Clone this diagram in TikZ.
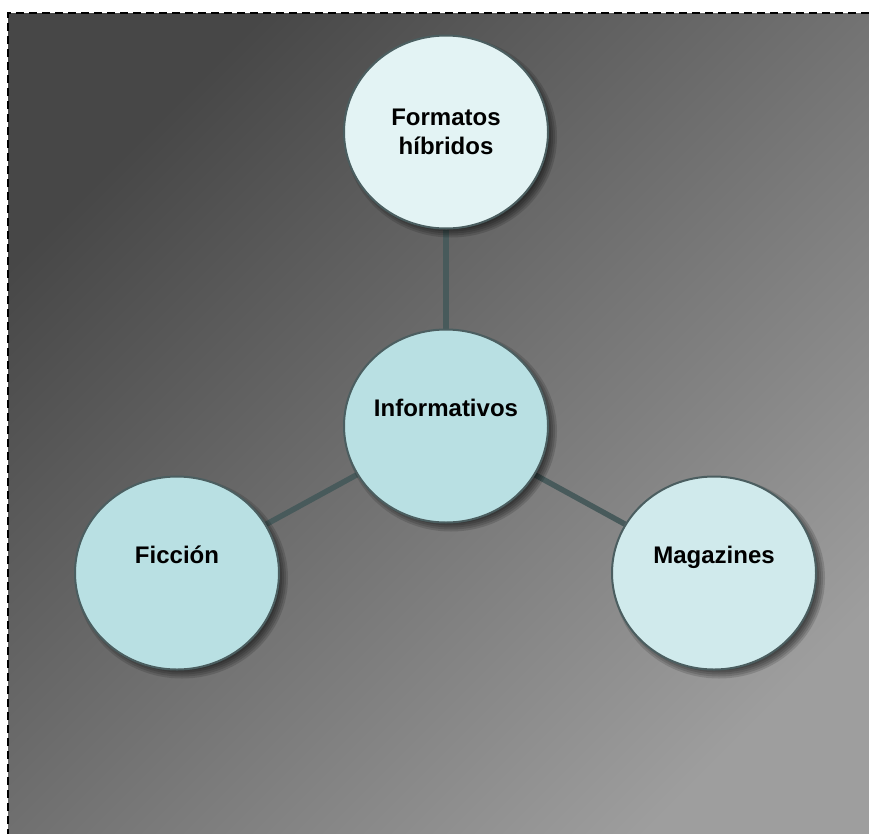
\documentclass[tikz,border=0pt]{standalone}
\usepackage{fontspec}
\setmainfont{Liberation Sans}
\usetikzlibrary{shapes.geometric}
\definecolor{bgdark}{HTML}{474747}
\definecolor{bglight}{HTML}{9E9E9E}
\definecolor{rim}{HTML}{4B5E60}
\definecolor{linkgray}{HTML}{485A5B}
\definecolor{topfill}{HTML}{E3F3F4}
\definecolor{midfill}{HTML}{B9E0E3}
\definecolor{magfill}{HTML}{D0EAEC}
\pgfdeclarelayer{back}
\pgfdeclarelayer{links}
\pgfdeclarelayer{shade}
\pgfsetlayers{back,links,shade,main}

\begin{document}
\begin{tikzpicture}[x=1pt,y=-1pt,
  bubble/.style={ellipse,draw=rim,line width=2pt,minimum width=204pt,minimum height=193pt,
    inner sep=0pt,font=\fontsize{24}{29}\selectfont\bfseries},
  lowtext/.style={text height=17pt,text depth=37pt},
  link/.style={draw=linkgray,line width=5.5pt}]
\useasboundingbox (0,0) rectangle (869,833);
\begin{pgfonlayer}{back}
\shade[top color=bgdark,bottom color=bglight,shading angle=45] (8,13) rectangle (885,850);
\draw[line width=1.5pt,dash pattern=on 8pt off 5pt] (8,850) -- (8,13) -- (885,13);
\end{pgfonlayer}
\node[bubble,align=center,fill=topfill] (v0) at (446,132) {Formatos\\híbridos};
\node[bubble,lowtext,fill=midfill] (v1) at (446,426) {Informativos};
\node[bubble,lowtext,fill=midfill] (v2) at (177,573) {Ficción};
\node[bubble,lowtext,fill=magfill] (v3) at (714,573) {Magazines};
\begin{pgfonlayer}{links}
\draw [link] (v1) edge (v0);
\draw [link] (v1) edge (v2);
\draw [link] (v1) edge (v3);
\end{pgfonlayer}
% soft shadows under the bubbles
\begin{pgfonlayer}{shade}
\foreach \v in {v0,v1,v2,v3}
  \foreach \d in {0,2,4,6,8,10}
    \fill[black,opacity=0.14] ([shift={(5,5)}]\v.center) ellipse ({96pt+\d pt} and {90.5pt+\d pt});
\end{pgfonlayer}
\end{tikzpicture}
\end{document}
